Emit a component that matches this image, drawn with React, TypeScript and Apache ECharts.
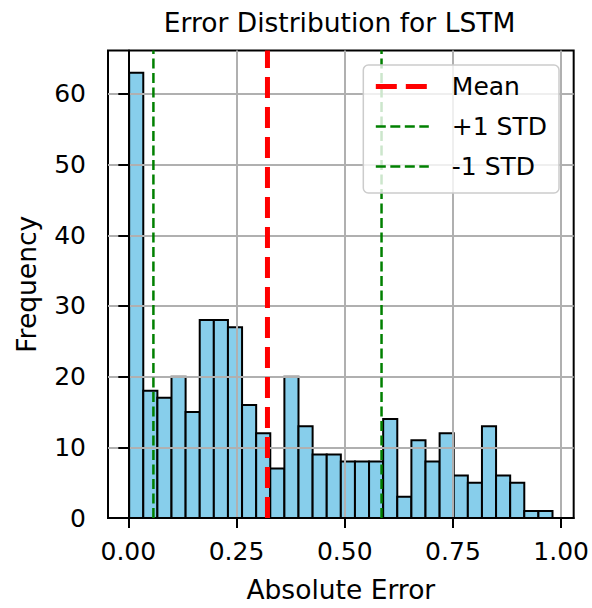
import React, { useEffect, useRef } from "react";
import * as echarts from "echarts";

// Histogram data (30 bins between min and max absolute error)
const binCounts = [63, 18, 17, 20, 15, 28, 28, 27, 16, 12, 7, 20, 13, 9, 9, 8, 8, 8, 14, 3, 11, 8, 12, 6, 5, 13, 6, 5, 1, 1];
const errorMin = 0.002;
const errorMax = 0.98;
const meanError = 0.3215;
const stdError = 0.2635;
const xTickValues = [0, 0.25, 0.5, 0.75, 1.0];
const yTickValues = [0, 10, 20, 30, 40, 50, 60];
const legendNames = ["Mean", "+1 STD", "-1 STD"];

const FONT = "DejaVu Sans";

const MEAN_STYLE = { color: "#ff0000", width: 5, type: [21, 9] };
const STD_STYLE = { color: "#008000", width: 2.5, type: [10, 4.5] };

export default function App() {
  const ref = useRef<HTMLDivElement>(null);

  useEffect(() => {
    if (!ref.current) return;
    const chart = echarts.init(ref.current, null, { renderer: "svg" });

    const nBins = binCounts.length;
    const binWidth = (errorMax - errorMin) / nBins;
    const histData = binCounts.map((c, i) => [errorMin + i * binWidth, errorMin + (i + 1) * binWidth, c]);
    const span = errorMax - errorMin;
    const xMin = errorMin - 0.05 * span;
    const xMax = errorMax + 0.05 * span;
    const yMax = Math.max(...binCounts) * 1.05;

    const vline = (name: string, x: number, style: any) => ({
      name,
      type: "line",
      data: [[x, 0], [x, yMax]],
      symbol: "none",
      showSymbol: false,
      z: 5,
      lineStyle: { ...style },
      itemStyle: { color: style.color },
      silent: true,
    });

    const legendData = legendNames.map((n, i) => ({
      name: n,
      itemStyle: { opacity: 0 },
      lineStyle: i === 0 ? { ...MEAN_STYLE } : { ...STD_STYLE },
    }));

    chart.setOption({
      animation: false,
      textStyle: { fontFamily: FONT },
      grid: {
        left: 108,
        right: 18,
        top: 50.5,
        bottom: 86.3,
        show: true,
        borderColor: "#000",
        borderWidth: 2,
        backgroundColor: "transparent",
      },
      graphic: [
        {
          type: "text",
          x: 339.5,
          y: 22.5,
          style: {
            text: "Error Distribution for LSTM",
            fontSize: 26.5,
            fontFamily: FONT,
            fill: "#000",
            textAlign: "center",
            textVerticalAlign: "middle",
          },
        },
      ],
      legend: {
        data: legendData,
        orient: "vertical",
        right: 33,
        top: 65,
        z: 10,
        itemWidth: 53,
        itemHeight: 14,
        itemGap: 15,
        padding: [9, 12, 14, 10],
        backgroundColor: "rgba(255,255,255,0.8)",
        borderColor: "#cccccc",
        borderWidth: 1.5,
        borderRadius: 5,
        textStyle: { fontSize: 25, fontFamily: FONT, color: "#000", padding: [0, 0, 0, 18] },
      },
      xAxis: {
        type: "value",
        min: xMin,
        max: xMax,
        z: 3,
        name: "Absolute Error",
        nameLocation: "middle",
        nameGap: 58,
        nameTextStyle: { fontSize: 26.5, fontFamily: FONT, color: "#000" },
        axisLine: { show: true, lineStyle: { color: "#000", width: 2 } },
        axisTick: { show: true, length: 10, lineStyle: { color: "#000", width: 2 }, customValues: xTickValues },
        axisLabel: {
          fontSize: 25,
          fontFamily: FONT,
          color: "#000",
          margin: 21,
          customValues: xTickValues,
          formatter: (v: number) => v.toFixed(2),
        },
        splitLine: { show: true, lineStyle: { color: "#b0b0b0", width: 2 } },
      },
      yAxis: {
        type: "value",
        min: 0,
        max: yMax,
        z: 3,
        name: "Frequency",
        nameLocation: "middle",
        nameGap: 68,
        nameTextStyle: { fontSize: 26.5, fontFamily: FONT, color: "#000" },
        axisLine: { show: true, lineStyle: { color: "#000", width: 2 } },
        axisTick: { show: true, length: 10, lineStyle: { color: "#000", width: 2 }, customValues: yTickValues },
        axisLabel: {
          fontSize: 25,
          fontFamily: FONT,
          color: "#000",
          margin: 22,
          customValues: yTickValues,
          formatter: (v: number) => String(Math.round(v)),
        },
        splitLine: { show: true, lineStyle: { color: "#b0b0b0", width: 2 } },
      },
      series: [
        {
          name: "hist",
          type: "custom",
          z: 2,
          silent: true,
          encode: { x: [0, 1], y: 2 },
          data: histData,
          renderItem: (params: any, api: any) => {
            const p0 = api.coord([api.value(0), api.value(2)]);
            const p1 = api.coord([api.value(1), 0]);
            return {
              type: "rect",
              shape: { x: p0[0], y: p0[1], width: p1[0] - p0[0], height: p1[1] - p0[1] },
              style: { fill: "#87CEEB", stroke: "#000", lineWidth: 2 },
            };
          },
        },
        vline("Mean", meanError, MEAN_STYLE),
        vline("+1 STD", meanError + stdError, STD_STYLE),
        vline("-1 STD", meanError - stdError, STD_STYLE),
      ],
    });

    return () => chart.dispose();
  }, []);

  return (
    <div
      ref={ref}
      style={{ position: "fixed", left: 0, top: 0, width: 592, height: 608, background: "#fff" }}
    />
  );
}
